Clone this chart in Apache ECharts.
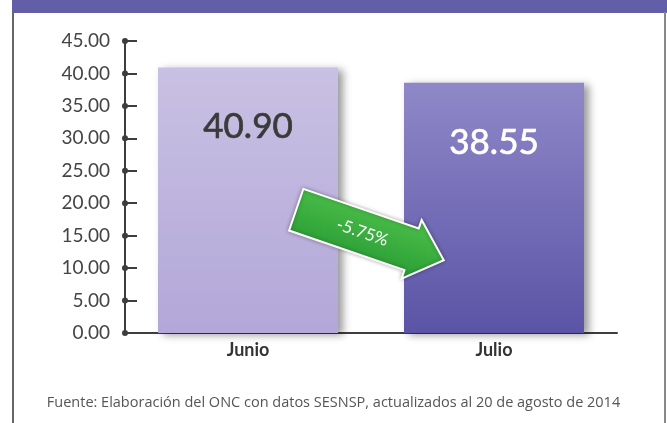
<!DOCTYPE html>
<html><head><meta charset="utf-8">
<script src="https://cdn.jsdelivr.net/npm/echarts@6/dist/echarts.min.js"></script>
<style>html,body{margin:0;padding:0;background:#fff}#c{width:667px;height:423px}</style>
</head><body><div id="c"></div>
<script>
const categories = ['Junio', 'Julio'];
const values = [40.90, 38.55];
const changeLabel = '-5.75%';
const tickValues = [0, 5, 10, 15, 20, 25, 30, 35, 40, 45];
const footer = 'Fuente: Elaboración del ONC con datos SESNSP, actualizados al 20 de agosto de 2014';

const chart = echarts.init(document.getElementById('c'));
const barColors = [
  new echarts.graphic.LinearGradient(0,0,0,1,[{offset:0,color:'#c9c1e3'},{offset:1,color:'#b2a7d8'}]),
  new echarts.graphic.LinearGradient(0,0,0,1,[{offset:0,color:'#8f88c8'},{offset:1,color:'#5b54a6'}])
];
const labelColors = ['#3a3a3a', '#ffffff'];

chart.setOption({
  animation: false,
  grid: {left: 125, right: 50, top: 41, bottom: 90},
  xAxis: {
    type: 'category', data: categories,
    axisLine: {lineStyle: {color: '#3d3d3d', width: 2}},
    axisTick: {show: false},
    axisLabel: {color: '#333', fontSize: 18, fontWeight: 'bold', fontFamily: 'Lato', margin: 8}
  },
  yAxis: {
    type: 'value', min: 0, max: 45, interval: 5,
    axisLine: {show: true, lineStyle: {color: '#3d3d3d', width: 2}},
    axisTick: {show: true, inside: true, length: 12, lineStyle: {color: '#3d3d3d', width: 2}},
    splitLine: {show: false},
    axisLabel: {color: '#444', fontSize: 19, fontFamily: 'Lato', margin: 15,
      formatter: v => v.toFixed(2)}
  },
  series: [{
    type: 'bar', barWidth: 180,
    data: values.map((v, i) => ({
      value: v,
      itemStyle: {color: barColors[i]},
      label: {color: labelColors[i], textBorderColor: labelColors[i], textBorderWidth: 0.7}
    })),
    itemStyle: {shadowColor: 'rgba(0,0,0,0.4)', shadowBlur: 8, shadowOffsetX: 5, shadowOffsetY: 2},
    label: {show: true, position: 'insideTop', distance: 42, fontSize: 35, fontFamily: 'Lato',
      formatter: p => p.value.toFixed(2)}
  }, {
    type: 'custom', data: tickValues.map(v => [0, v]), z: 5,
    renderItem: (params, api) => {
      const p = api.coord([0, api.value(1)]);
      return {type: 'circle', shape: {cx: params.coordSys.x, cy: p[1], r: 3},
        style: {fill: '#3d3d3d'}};
    }
  }],
  graphic: [
    {type: 'rect', shape: {x: 12, y: 0, width: 655, height: 13}, style: {fill: '#635ea8'}, z: 100},
    {type: 'line', shape: {x1: 13, y1: 12, x2: 13, y2: 423}, style: {stroke: '#666', lineWidth: 2}, z: 100},
    {type: 'line', shape: {x1: 665, y1: 12, x2: 665, y2: 423}, style: {stroke: '#888', lineWidth: 2}, z: 100},
    {type: 'text', left: 'center', top: 395, z: 100,
      style: {text: footer, fill: '#555', font: '14.5px "Open Sans", sans-serif'}},
    {type: 'group', x: 370, y: 235, rotation: -0.33, z: 100, children: [
      {type: 'polygon', z: 100,
        shape: {points: [[-78,-22],[44,-22],[44,-31],[78,0],[44,31],[44,22],[-78,22]]},
        style: {fill: new echarts.graphic.LinearGradient(0,0,0,1,[{offset:0,color:'#4cc04a'},{offset:1,color:'#2a9c35'}]),
          stroke: '#ffffff', lineWidth: 2, shadowColor: 'rgba(0,0,0,0.3)', shadowBlur: 4}},
      {type: 'text', x: -8, y: 0, z: 101,
        style: {text: changeLabel, fill: '#fff', font: '17px Lato', align: 'center', verticalAlign: 'middle'}}
    ]}
  ]
});
</script></body></html>
